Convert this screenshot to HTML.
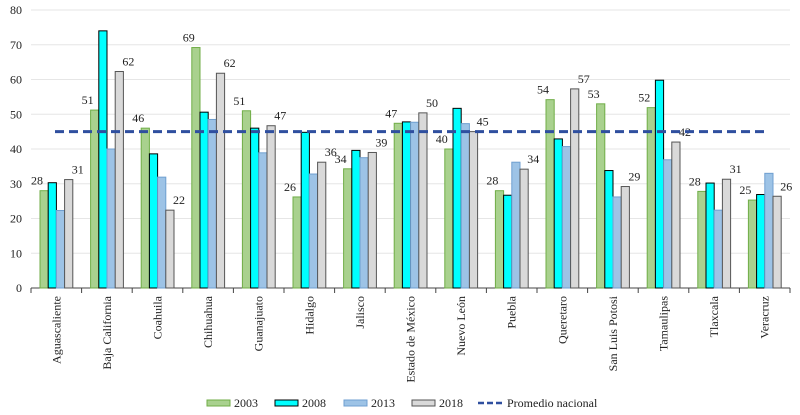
<!DOCTYPE html>
<html><head><meta charset="utf-8"><style>
body{margin:0;background:#fff;}
svg{display:block;font-family:"Liberation Serif","DejaVu Serif",serif;}
text{font-family:"Liberation Serif","DejaVu Serif",serif;}
</style></head><body>
<svg id="c" width="800" height="415"></svg>
<script>
const categories=["Aguascaliente","Baja California","Coahuila","Chihuahua","Guanajuato","Hidalgo","Jalisco","Estado de México","Nuevo León","Puebla","Queretaro","San Luis Potosi","Tamaulipas","Tlaxcala","Veracruz"];
const s2003=[28,51.2,46,69.2,51,26.2,34.3,47.4,40,28,54.2,53,51.9,27.8,25.3];
const s2008=[30.3,74,38.6,50.6,46,44.8,39.6,47.8,51.7,26.7,42.9,33.8,59.8,30.2,26.9];
const s2013=[22.3,40,31.9,48.5,38.9,32.8,37.5,47.7,47.3,36.2,40.7,26.2,36.9,22.4,33];
const s2018=[31.2,62.3,22.4,61.8,46.7,36.2,39,50.4,45,34.2,57.3,29.2,42,31.3,26.4];
const promedio=45;
const yTicks=[0,10,20,30,40,50,60,70,80];
const seriesNames=["2003","2008","2013","2018"];
const NS="http://www.w3.org/2000/svg";
const svg=document.getElementById('c');
function mk(t,a,p){const e=document.createElementNS(NS,t);for(const k in a)e.setAttribute(k,a[k]);(p||svg).appendChild(e);return e;}
const FF='"Liberation Serif","DejaVu Serif",serif';
const X0=31,X1=790,Y0=288,Y1=10;
const y=v=>Y0-(v/80)*(Y0-Y1);
const cw=(X1-X0)/categories.length;
const x=i=>X0+i*cw;
const fills=["#a9d18e","#00ffff","#9dc3e6","#d9d9d9"];
const strokes=["#70ad47","#000","#6f9fd0","#555"];
const series=[s2003,s2008,s2013,s2018];
yTicks.forEach(t=>{
 if(t>0){const g=mk('line',{x1:X0,x2:X1,y1:y(t),y2:y(t),stroke:'#e6e6e6','stroke-width':1});
 }
 const l=mk('text',{x:22,y:y(t)+4,'text-anchor':'end','font-size':12,fill:'#222','font-family':FF});l.textContent=t;
 
});
const ax=mk('line',{x1:X0,x2:X1,y1:Y0,y2:Y0,stroke:'#444','stroke-width':1});

for(let i=0;i<=categories.length;i++){const t=mk('line',{x1:x(i),x2:x(i),y1:Y0,y2:Y0+5,stroke:'#444'});
}
const bw=8.2,off=9;
categories.forEach((c,i)=>{
 series.forEach((s,j)=>{
  const bx=x(i)+off+j*bw;
  const r=mk('rect',{x:bx,y:y(s[i]),width:bw,height:Y0-y(s[i]),fill:fills[j],stroke:strokes[j],'stroke-width':1});
  
  if(j==0||j==3){const t=mk('text',{x:bx+(j==0?-3:bw+5),y:y(s[i])-6,'text-anchor':'middle','font-size':12,fill:'#222','font-family':FF});
   t.textContent=Math.round(s[i]);}
 });
 const tx=x(i)+cw/2+4;
 const l=mk('text',{x:0,y:0,transform:`translate(${tx},296) rotate(-90)`,'text-anchor':'end','font-size':12,fill:'#222','font-family':FF});
 l.textContent=c;
});
const d=mk('line',{x1:55,x2:765,y1:y(promedio),y2:y(promedio),stroke:'#2f4f9f','stroke-width':3,'stroke-dasharray':'9,5'});

const lx=[207,275,344,412];
seriesNames.forEach((n,j)=>{
 const r=mk('rect',{x:lx[j],y:400,width:23,height:6,fill:fills[j],stroke:strokes[j]});
 
 const t=mk('text',{x:lx[j]+27,y:407,'font-size':12,fill:'#222','font-family':FF});t.textContent=n;
 
});
const ll=mk('line',{x1:478,x2:505,y1:403,y2:403,stroke:'#2f4f9f','stroke-width':2.5,'stroke-dasharray':'6,3'});

const lt=mk('text',{x:507,y:407,'font-size':12,fill:'#222','font-family':FF});lt.textContent='Promedio nacional';

</script>
</body></html>
